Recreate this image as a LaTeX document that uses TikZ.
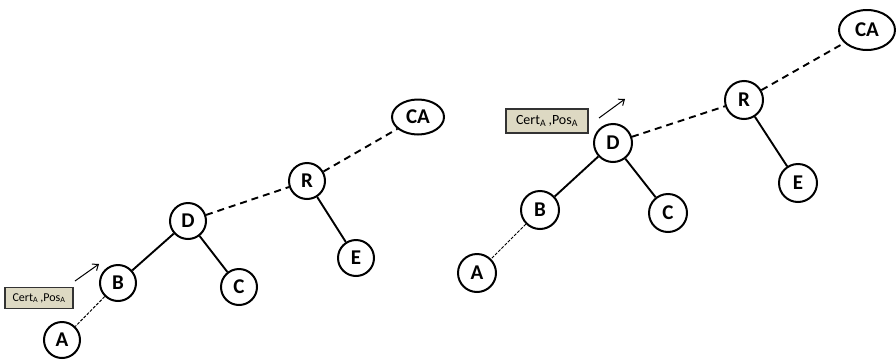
\documentclass[tikz,border=0pt]{standalone}
\usepackage{fontspec}
\setmainfont{Carlito}
\usetikzlibrary{arrows.meta,shapes.geometric}
\definecolor{certfill}{RGB}{221,217,195}
\tikzset{
  peer/.style={circle,draw=black,line width=2pt,fill=white,inner sep=0pt,
    minimum size=#1,font=\fontsize{21}{21}\selectfont\bfseries},
  auth/.style={ellipse,draw=black,line width=2pt,fill=white,inner sep=0pt,
    font=\fontsize{21}{21}\selectfont\bfseries},
  treeedge/.style={line width=1.9pt},
  chainedge/.style={line width=1.9pt,dash pattern=on 7pt off 5pt},
  linkedge/.style={line width=1pt,dash pattern=on 3pt off 1.5pt},
  certbox/.style={draw=black!80,line width=1.3pt,fill=certfill,inner sep=0pt},
  moveto/.style={line width=1pt,-{Straight Barb[length=5pt,width=8pt]}}
}
\newcommand{\sbA}{\textsubscript{A}}
\begin{document}
\begin{tikzpicture}[x=1pt,y=-1pt]
\useasboundingbox (0,0) rectangle (896,362);
% first configuration
\node[peer=36pt] (A1) at (62,340) {A};
\node[peer=36pt] (B1) at (118,283) {B};
\node[peer=36pt] (D1) at (188,221) {D};
\node[peer=36pt] (C1) at (239,287) {C};
\node[peer=36pt] (R1) at (307,181) {R};
\node[peer=36pt] (E1) at (356,258) {E};
\node[auth,minimum width=52pt,minimum height=35pt] (CA1) at (418,117) {CA};
\node[certbox,minimum width=68pt,minimum height=21pt,font=\fontsize{12}{12}\selectfont] (K1) at (39,298) {Cert\sbA\,,Pos\sbA};
\coordinate (s1) at (75,281);
\coordinate (t1) at (99,264);
\draw[treeedge] (D1) -- (B1);
\draw[treeedge] (D1) -- (C1);
\draw[treeedge] (R1) -- (E1);
\draw[chainedge] (D1) -- (R1);
\draw[chainedge] (R1) -- (CA1);
\draw[linkedge] (B1) -- (A1);
\draw[moveto] (s1) -- (t1);
% second configuration
\node[peer=38pt] (A2) at (477,273) {A};
\node[peer=38pt] (B2) at (540,210) {B};
\node[peer=38pt] (D2) at (613,143) {D};
\node[peer=38pt] (C2) at (668,213) {C};
\node[peer=38pt] (R2) at (744,100) {R};
\node[peer=38pt] (E2) at (798,183) {E};
\node[auth,minimum width=56pt,minimum height=40pt] (CA2) at (867,30) {CA};
\node[certbox,minimum width=82pt,minimum height=24pt,font=\fontsize{14}{14}\selectfont] (K2) at (547,121) {Cert\sbA\,,Pos\sbA};
\coordinate (s2) at (599,118);
\coordinate (t2) at (625,99);
\draw[treeedge] (D2) -- (B2);
\draw[treeedge] (D2) -- (C2);
\draw[treeedge] (R2) -- (E2);
\draw[chainedge] (D2) -- (R2);
\draw[chainedge] (R2) -- (CA2);
\draw[linkedge] (B2) -- (A2);
\draw[moveto] (s2) -- (t2);
\end{tikzpicture}
\end{document}
